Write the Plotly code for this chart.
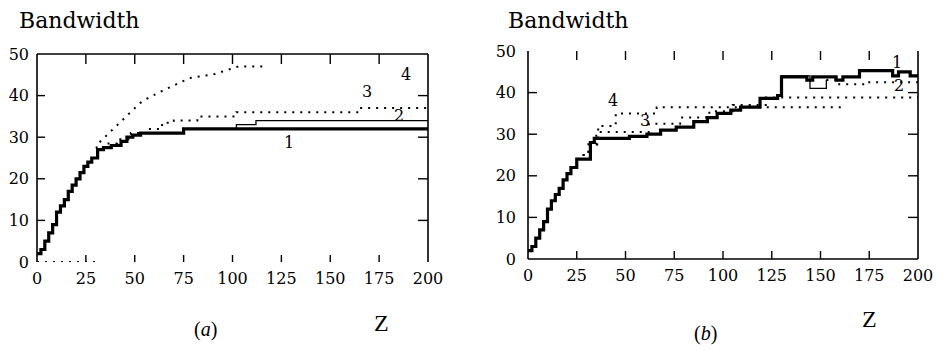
import plotly.graph_objects as go

# ---------------- data ----------------
z_ticks = [0, 25, 50, 75, 100, 125, 150, 175, 200]
bw_ticks = [0, 10, 20, 30, 40, 50]

# panel (a)
a1_z = [0, 2, 4, 6, 8, 10, 12, 14, 16, 18, 20, 22, 24, 26, 28, 31, 34, 38, 43, 46, 49, 53, 75, 200]
a1_y = [2, 3, 5, 7, 9, 12, 13.5, 15, 17, 18.5, 20, 21.5, 23, 24, 25, 27, 27.5, 28, 29, 30, 30.5, 31, 32, 32]
a2_z = [0, 2, 4, 6, 8, 10, 12, 14, 16, 18, 20, 22, 24, 26, 28, 31, 34, 38, 43, 46, 49, 53, 75, 102, 112, 200]
a2_y = [2, 3, 5, 7, 9, 12, 13.5, 15, 17, 18.5, 20, 21.5, 23, 24, 25, 27, 27.5, 28, 29, 30, 30.5, 31, 32, 33, 34, 34]
a3_z = [30, 36, 41, 48, 57, 64, 70, 82, 102, 165, 200]
a3_y = [27.5, 28.5, 29.5, 31, 32, 33.5, 34, 35, 36, 37, 37]
a4_z = [0, 30, None, 32, 46.5, 52.7, 56, 59.5, 63, 78, 91, 97, 103, 118]
a4_y = [0, 0, None, 28.8, 35.3, 38.2, 39.2, 40.1, 40.9, 44.2, 45.2, 46.1, 47, 47]

# panel (b)
b1_z = [0, 2, 4, 6, 8, 10, 12, 14, 16, 18, 20, 22, 25, 32, 34, 52, 61, 68, 76, 85, 92, 97, 104, 109,
        119, 128, 130, 143, 146, 158, 161.5, 170, 187, 190, 196, 200]
b1_y = [2, 3, 5, 7, 9, 12, 14, 15.5, 17, 19, 20.5, 22, 24, 28, 29, 29.5, 30, 31, 31.7, 33, 34, 35, 35.8, 36.5,
        38.6, 39.3, 43.8, 43, 43.8, 43, 43.8, 45.3, 44, 45, 44, 44]
b2_z = [0, 2, 4, 6, 8, 10, 12, 14, 16, 18, 20, 22, 25, 32, 34, 52, 61, 68, 76, 85, 92, 97, 104, 109,
        119, 128, 130, 144.6, 153, 158, 175, 200]
b2_y = [2, 3, 5, 7, 9, 12, 14, 15.5, 17, 19, 20.5, 22, 24, 28, 29, 29.5, 30, 31, 31.7, 33, 34, 35, 35.8, 36.5,
        38.6, 39.3, 44, 41, 43, 42, 42.5, 42.5]
b3_z = [28, 31, 35, 62, 78, 93, 105, 122, 200]
b3_y = [25, 27.5, 30.5, 32.5, 34, 35.5, 37, 38.8, 38.8]
b4_z = [28, 31, 36, 45, 66, 161]
b4_y = [25, 27.5, 32, 35, 36.5, 36.5]

# curve labels (number, z, bandwidth)
a_labels = [("1", 129, 28.8), ("2", 185, 35.3), ("3", 169, 40.9), ("4", 189, 45)]
b_labels = [("1", 189, 47.2), ("2", 190, 41.7), ("3", 60, 33.3), ("4", 43.6, 38.1)]

# ---------------- figure ----------------
W, H = 945, 351
SHIFT = 8  # the page body has a default 8px margin; compensate so the window shows the intended layout
SERIF = "DejaVu Serif"
fig = go.Figure()

thick = dict(color="black", width=3.2)
thin = dict(color="black", width=1.3)
dotted = dict(color="black", width=2, dash="2px,6px")


def add(z, y, line, xa, ya, shape="hv"):
    fig.add_trace(go.Scatter(x=z, y=y, mode="lines", line=dict(shape=shape, **line),
                             xaxis=xa, yaxis=ya, hoverinfo="skip", connectgaps=False))


# panel a
add(a3_z, a3_y, dotted, "x", "y")
add(a4_z, a4_y, dotted, "x", "y", shape="linear")
add(a1_z, a1_y, thick, "x", "y")
add(a2_z, a2_y, thin, "x", "y")
# panel b
add(b3_z, b3_y, dotted, "x2", "y2")
add(b4_z, b4_y, dotted, "x2", "y2")
add(b1_z, b1_y, thick, "x2", "y2")
cut = 29  # thin solid part of curve 2, then scattered dots
add(b2_z[:cut], b2_y[:cut], thin, "x2", "y2")
add(b2_z[cut - 1:], b2_y[cut - 1:], dotted, "x2", "y2")


def fx(px):
    return (px - SHIFT) / W


def fy(py):
    return 1 - (py - SHIFT) / H


# panel pixel boxes in window coordinates: (left, right, bottom, top)
PA = (37, 428, 262, 54)
PB = (528, 918, 259, 51)

ax_common = dict(showgrid=False, zeroline=False, showline=False, ticks="", automargin=False,
                 tickfont=dict(family=SERIF, size=16, color="black"))

fig.update_layout(
    width=W, height=H, autosize=False,
    margin=dict(l=0, r=0, t=0, b=0, pad=0, autoexpand=False),
    paper_bgcolor="white", plot_bgcolor="white", showlegend=False,
    xaxis=dict(domain=[fx(PA[0]), fx(PA[1])], range=[0, 200], tickvals=z_ticks, anchor="y",
               ticklabelstandoff=5, **ax_common),
    yaxis=dict(domain=[fy(PA[2]), fy(PA[3])], range=[0, 50], tickvals=bw_ticks, anchor="x",
               ticklabelstandoff=7, **ax_common),
    xaxis2=dict(domain=[fx(PB[0]), fx(PB[1])], range=[0, 200], tickvals=z_ticks, anchor="y2",
                ticklabelstandoff=5, **ax_common),
    yaxis2=dict(domain=[fy(PB[2]), fy(PB[3])], range=[0, 50], tickvals=bw_ticks, anchor="x2",
                ticklabelstandoff=11, **ax_common),
)

frame = dict(color="black", width=1.6)
tickline = dict(color="black", width=1.4)


def frame_and_ticks(p, sides, tl):
    """Frame lines and inward tick marks of one panel (paper-referenced, tick lengths in px)."""
    left, right, bottom, top = p
    x0f, x1f = fx(left), fx(right)
    y0f, y1f = fy(bottom), fy(top)
    segs = {"left": (x0f, y0f, x0f, y1f), "right": (x1f, y0f, x1f, y1f),
            "top": (x0f, y1f, x1f, y1f), "bottom": (x0f, y0f, x1f, y0f)}
    for s in sides:
        a, b, c, d = segs[s]
        fig.add_shape(type="line", xref="paper", yref="paper", x0=a, y0=b, x1=c, y1=d, line=frame)
    for z in z_ticks[1:-1]:
        xz = fx(left + (right - left) * z / 200)
        fig.add_shape(type="line", xref="paper", yref="paper", x0=xz, x1=xz,
                      y0=y0f, y1=y0f + tl["bottom"] / H, line=tickline)
        fig.add_shape(type="line", xref="paper", yref="paper", x0=xz, x1=xz,
                      y0=y1f - tl["top"] / H, y1=y1f, line=tickline)
    for bw in bw_ticks[1:-1]:
        yb = fy(bottom - (bottom - top) * bw / 50)
        fig.add_shape(type="line", xref="paper", yref="paper", x0=x0f, x1=x0f + tl["left"] / W,
                      y0=yb, y1=yb, line=tickline)
        fig.add_shape(type="line", xref="paper", yref="paper", x0=x1f - tl["right"] / W, x1=x1f,
                      y0=yb, y1=yb, line=tickline)


frame_and_ticks(PA, ["left", "top", "right"], dict(bottom=7, top=10, left=8, right=10))
frame_and_ticks(PB, ["left", "bottom", "right"], dict(bottom=8, top=9, left=9, right=10))

for t, z, y in a_labels:
    fig.add_annotation(x=z, y=y, xref="x", yref="y", text=t, showarrow=False,
                       font=dict(family=SERIF, size=16, color="black"))
for t, z, y in b_labels:
    fig.add_annotation(x=z, y=y, xref="x2", yref="y2", text=t, showarrow=False,
                       font=dict(family=SERIF, size=16, color="black"))


def paper_text(text, cx, cy, size, family=SERIF):
    fig.add_annotation(x=fx(cx), y=fy(cy), xref="paper", yref="paper", text=text,
                       showarrow=False, xanchor="center", yanchor="middle",
                       font=dict(family=family, size=size, color="black"))


paper_text("Bandwidth", 79, 21, 22)
paper_text("Bandwidth", 568, 21, 22)
paper_text("Z", 381, 323, 24, family="Liberation Serif")
paper_text("Z", 869, 319, 24, family="Liberation Serif")
paper_text("(<i>a</i>)", 205, 329, 20, family="Liberation Serif")
paper_text("(<i>b</i>)", 705, 333, 20, family="Liberation Serif")

fig.write_html("out.html")
